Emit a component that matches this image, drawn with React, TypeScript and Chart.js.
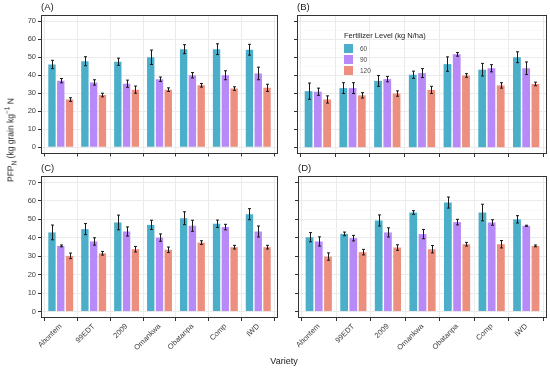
import React, { useEffect, useRef } from 'react';
import { Chart, registerables } from 'chart.js';

Chart.register(...registerables);

const FONT = "'Liberation Sans', Arial, Helvetica, sans-serif";

// ---- data ----
const varieties = ['Abontem', '99EDT', '2009', 'Omankwa', 'Obatanpa', 'Comp', 'IWD'];
const levels = ['60', '90', '120'];
const legendTitle = 'Fertilizer Level (kg N/ha)';
const yTickValues = [0, 5, 10, 15, 20, 25, 30, 35, 40, 45, 50, 55, 60, 65, 70];

const a60 = [46, 47.8, 47.5, 50, 54.5, 54.5, 54.2];
const a90 = [37, 36, 35.3, 37.8, 40, 40, 41];
const a120 = [26.5, 29, 32, 32, 34.4, 32.6, 33];
const aErr60 = [2.3, 2.5, 2, 4, 2.5, 3, 3];
const aErr90 = [1.2, 1.5, 2, 1.2, 1.5, 2.5, 3.5];
const aErr120 = [1, 1, 2, 1, 1, 1, 2];

const b60 = [31.3, 33, 37, 40.4, 46.3, 43.2, 50.1];
const b90 = [31, 33, 38, 41.3, 51.7, 44, 44];
const b120 = [26.7, 29, 30, 32, 40, 34.5, 35.3];
const bErr60 = [4.5, 3, 3, 2, 4, 3.5, 3];
const bErr90 = [2, 3, 1.5, 2.5, 1, 2, 3.5];
const bErr120 = [2, 1.5, 1.5, 2, 1, 1.5, 1];

const c60 = [42.9, 44.7, 48.3, 47, 50.6, 47.6, 52.8];
const c90 = [35.6, 38, 43.4, 40.1, 46.5, 45.8, 43.4];
const c120 = [30.2, 31.6, 33.8, 33.5, 37.4, 34.9, 34.9];
const cErr60 = [4, 3, 4, 2.5, 3.5, 2, 3];
const cErr90 = [0.5, 2, 2.5, 2, 3, 1.5, 3];
const cErr120 = [1.5, 1, 1.5, 1.5, 1, 1, 1];

const d60 = [40.3, 42.1, 49.4, 53.7, 59.1, 53.7, 50];
const d90 = [38, 39.8, 42.9, 42, 48.5, 48.3, 46.5];
const d120 = [29.8, 32.2, 34.7, 33.8, 36.5, 36.5, 35.6];
const dErr60 = [2.5, 1, 3, 1, 3, 4.5, 2];
const dErr90 = [2.5, 1.5, 2.5, 2.5, 1.5, 1.5, 0.3];
const dErr120 = [2, 1.5, 1.5, 2, 1, 2, 0.5];

const levelColors = ['#4cafca', '#b88af8', '#ec8f7e'];

// ---- panel layout ----
type Spec = {
  tag: string;
  values: number[][];
  errors: number[][];
  left: number; top: number; w: number; h: number;
  yW: number; padTop: number; padRight: number; xH: number;
  yLabels: boolean; xLabels: boolean; legend: boolean;
};

const panels: Spec[] = [
  { tag: '(A)', values: [a60, a90, a120], errors: [aErr60, aErr90, aErr120], left: 0, top: 0, w: 280, h: 160, yW: 41, padTop: 15, padRight: 2, xH: 6, yLabels: true, xLabels: false, legend: false },
  { tag: '(B)', values: [b60, b90, b120], errors: [bErr60, bErr90, bErr120], left: 280, top: 0, w: 270, h: 160, yW: 17, padTop: 15, padRight: 3, xH: 6, yLabels: false, xLabels: false, legend: true },
  { tag: '(C)', values: [c60, c90, c120], errors: [cErr60, cErr90, cErr120], left: 0, top: 160, w: 280, h: 208, yW: 41, padTop: 16, padRight: 2, xH: 50, yLabels: true, xLabels: true, legend: false },
  { tag: '(D)', values: [d60, d90, d120], errors: [dErr60, dErr90, dErr120], left: 280, top: 160, w: 270, h: 208, yW: 18, padTop: 16, padRight: 3, xH: 50, yLabels: false, xLabels: true, legend: false },
];

const errorBarPlugin = {
  id: 'errorBars',
  afterDatasetsDraw(chart: any) {
    const ctx = chart.ctx;
    const ys = chart.scales.y;
    ctx.save();
    ctx.strokeStyle = '#1a1a1a';
    ctx.lineWidth = 1;
    chart.data.datasets.forEach((ds: any, i: number) => {
      const meta = chart.getDatasetMeta(i);
      meta.data.forEach((bar: any, j: number) => {
        const v = ds.data[j].y;
        const e = ds.errors[j];
        const x = Math.round(bar.x) + 0.5;
        const y1 = ys.getPixelForValue(v + e);
        const y2 = ys.getPixelForValue(v - e);
        ctx.beginPath();
        ctx.moveTo(x, y1);
        ctx.lineTo(x, y2);
        ctx.moveTo(x - 1.5, y1);
        ctx.lineTo(x + 1.5, y1);
        ctx.moveTo(x - 1.5, y2);
        ctx.lineTo(x + 1.5, y2);
        ctx.stroke();
      });
    });
    ctx.restore();
  },
};

const decoPlugin = {
  id: 'panelDeco',
  afterDraw(chart: any, _args: any, opts: any) {
    const ctx = chart.ctx;
    const a = chart.chartArea;
    ctx.save();
    ctx.strokeStyle = '#333333';
    ctx.lineWidth = 1;
    ctx.strokeRect(Math.round(a.left) + 0.5, Math.round(a.top) + 0.5, Math.round(a.right - a.left) - 1, Math.round(a.bottom - a.top) - 1);
    ctx.fillStyle = '#1a1a1a';
    ctx.font = `9.5px ${FONT}`;
    ctx.textBaseline = 'middle';
    ctx.textAlign = 'left';
    ctx.fillText(opts.tag, a.left, a.top - 7.5);
    if (opts.legend) {
      const lx = a.left + 47;
      const ly = a.top + 21;
      ctx.font = `7.5px ${FONT}`;
      ctx.fillStyle = '#1a1a1a';
      ctx.fillText(legendTitle, lx, ly);
      levels.forEach((lv, i) => {
        const sy = ly + 8 + i * 11;
        ctx.fillStyle = levelColors[i];
        ctx.fillRect(lx, sy, 9, 9);
        ctx.fillStyle = '#4d4d4d';
        ctx.font = `6.5px ${FONT}`;
        ctx.fillText(lv, lx + 16, sy + 4.8);
      });
    }
    ctx.restore();
  },
};

function Panel({ spec }: { spec: Spec }) {
  const ref = useRef<HTMLCanvasElement | null>(null);
  useEffect(() => {
    if (!ref.current) return;
    const datasets = levels.map((lv, k) => ({
      label: lv,
      data: spec.values[k].map((v, i) => ({ x: i + 1, y: v })),
      errors: spec.errors[k],
      backgroundColor: levelColors[k],
      borderWidth: 0,
      categoryPercentage: 0.8,
      barPercentage: 0.84,
    }));
    const chart = new Chart(ref.current, {
      type: 'bar',
      data: { datasets } as any,
      plugins: [errorBarPlugin, decoPlugin],
      options: {
        animation: false,
        responsive: false,
        devicePixelRatio: 1,
        layout: { padding: { left: 0, top: spec.padTop, right: spec.padRight, bottom: 0 } },
        plugins: {
          legend: { display: false },
          tooltip: { enabled: false },
          title: { display: false },
          panelDeco: { tag: spec.tag, legend: spec.legend },
        } as any,
        scales: {
          x: {
            type: 'linear',
            min: 0.4,
            max: 7.6,
            offset: false,
            afterBuildTicks: (s: any) => { s.ticks = varieties.map((_, i) => ({ value: i + 1 })); },
            afterFit: (s: any) => { s.height = spec.xH; },
            ticks: {
              display: spec.xLabels,
              autoSkip: false,
              minRotation: 45,
              maxRotation: 45,
              padding: 1,
              color: '#404040',
              font: { size: 7.5, family: FONT },
              callback: (v: any) => varieties[Math.round(Number(v)) - 1] ?? '',
            },
            grid: { color: '#ebebeb', lineWidth: 1, tickColor: '#333333', tickLength: 3, drawTicks: true },
            border: { display: false },
          },
          y: {
            type: 'linear',
            min: -3.5,
            max: 73.5,
            afterBuildTicks: (s: any) => { s.ticks = yTickValues.map((v) => ({ value: v })); },
            afterFit: (s: any) => { s.width = spec.yW; },
            ticks: {
              display: spec.yLabels,
              padding: 2,
              color: '#404040',
              font: { size: 7.5, family: FONT },
              callback: (v: any) => (Number(v) % 10 === 0 ? String(v) : ''),
            },
            grid: {
              color: (c: any) => (c.tick && c.tick.value % 10 === 0 ? '#ebebeb' : '#f5f5f5'),
              lineWidth: (c: any) => (c.tick && c.tick.value % 10 === 0 ? 1 : 0.6),
              tickColor: (c: any) => (c.tick && c.tick.value % 10 === 0 ? '#333333' : 'rgba(0,0,0,0)'),
              tickLength: 3,
              drawTicks: true,
            },
            border: { display: false },
          },
        } as any,
      },
    } as any);
    return () => chart.destroy();
  }, [spec]);
  return (
    <canvas
      ref={ref}
      width={spec.w}
      height={spec.h}
      style={{ position: 'absolute', left: spec.left, top: spec.top, width: spec.w, height: spec.h }}
    />
  );
}

export default function App() {
  return (
    <div style={{ position: 'absolute', left: 0, top: 0, width: 550, height: 368, background: '#ffffff', overflow: 'hidden', fontFamily: FONT }}>
      {panels.map((p) => (
        <Panel key={p.tag} spec={p} />
      ))}
      <div
        style={{
          position: 'absolute', left: 11, top: 140, transform: 'translate(-50%, -50%) rotate(-90deg)',
          whiteSpace: 'nowrap', fontSize: 8.5, color: '#1a1a1a', lineHeight: 1,
        }}
      >
        PFP<sub style={{ fontSize: 6.5 }}>N</sub> (kg grain kg<sup style={{ fontSize: 6.5 }}>−1</sup> N
      </div>
      <div
        style={{
          position: 'absolute', left: 284, top: 361, transform: 'translate(-50%, -50%)',
          whiteSpace: 'nowrap', fontSize: 9, color: '#1a1a1a', lineHeight: 1,
        }}
      >
        Variety
      </div>
    </div>
  );
}
